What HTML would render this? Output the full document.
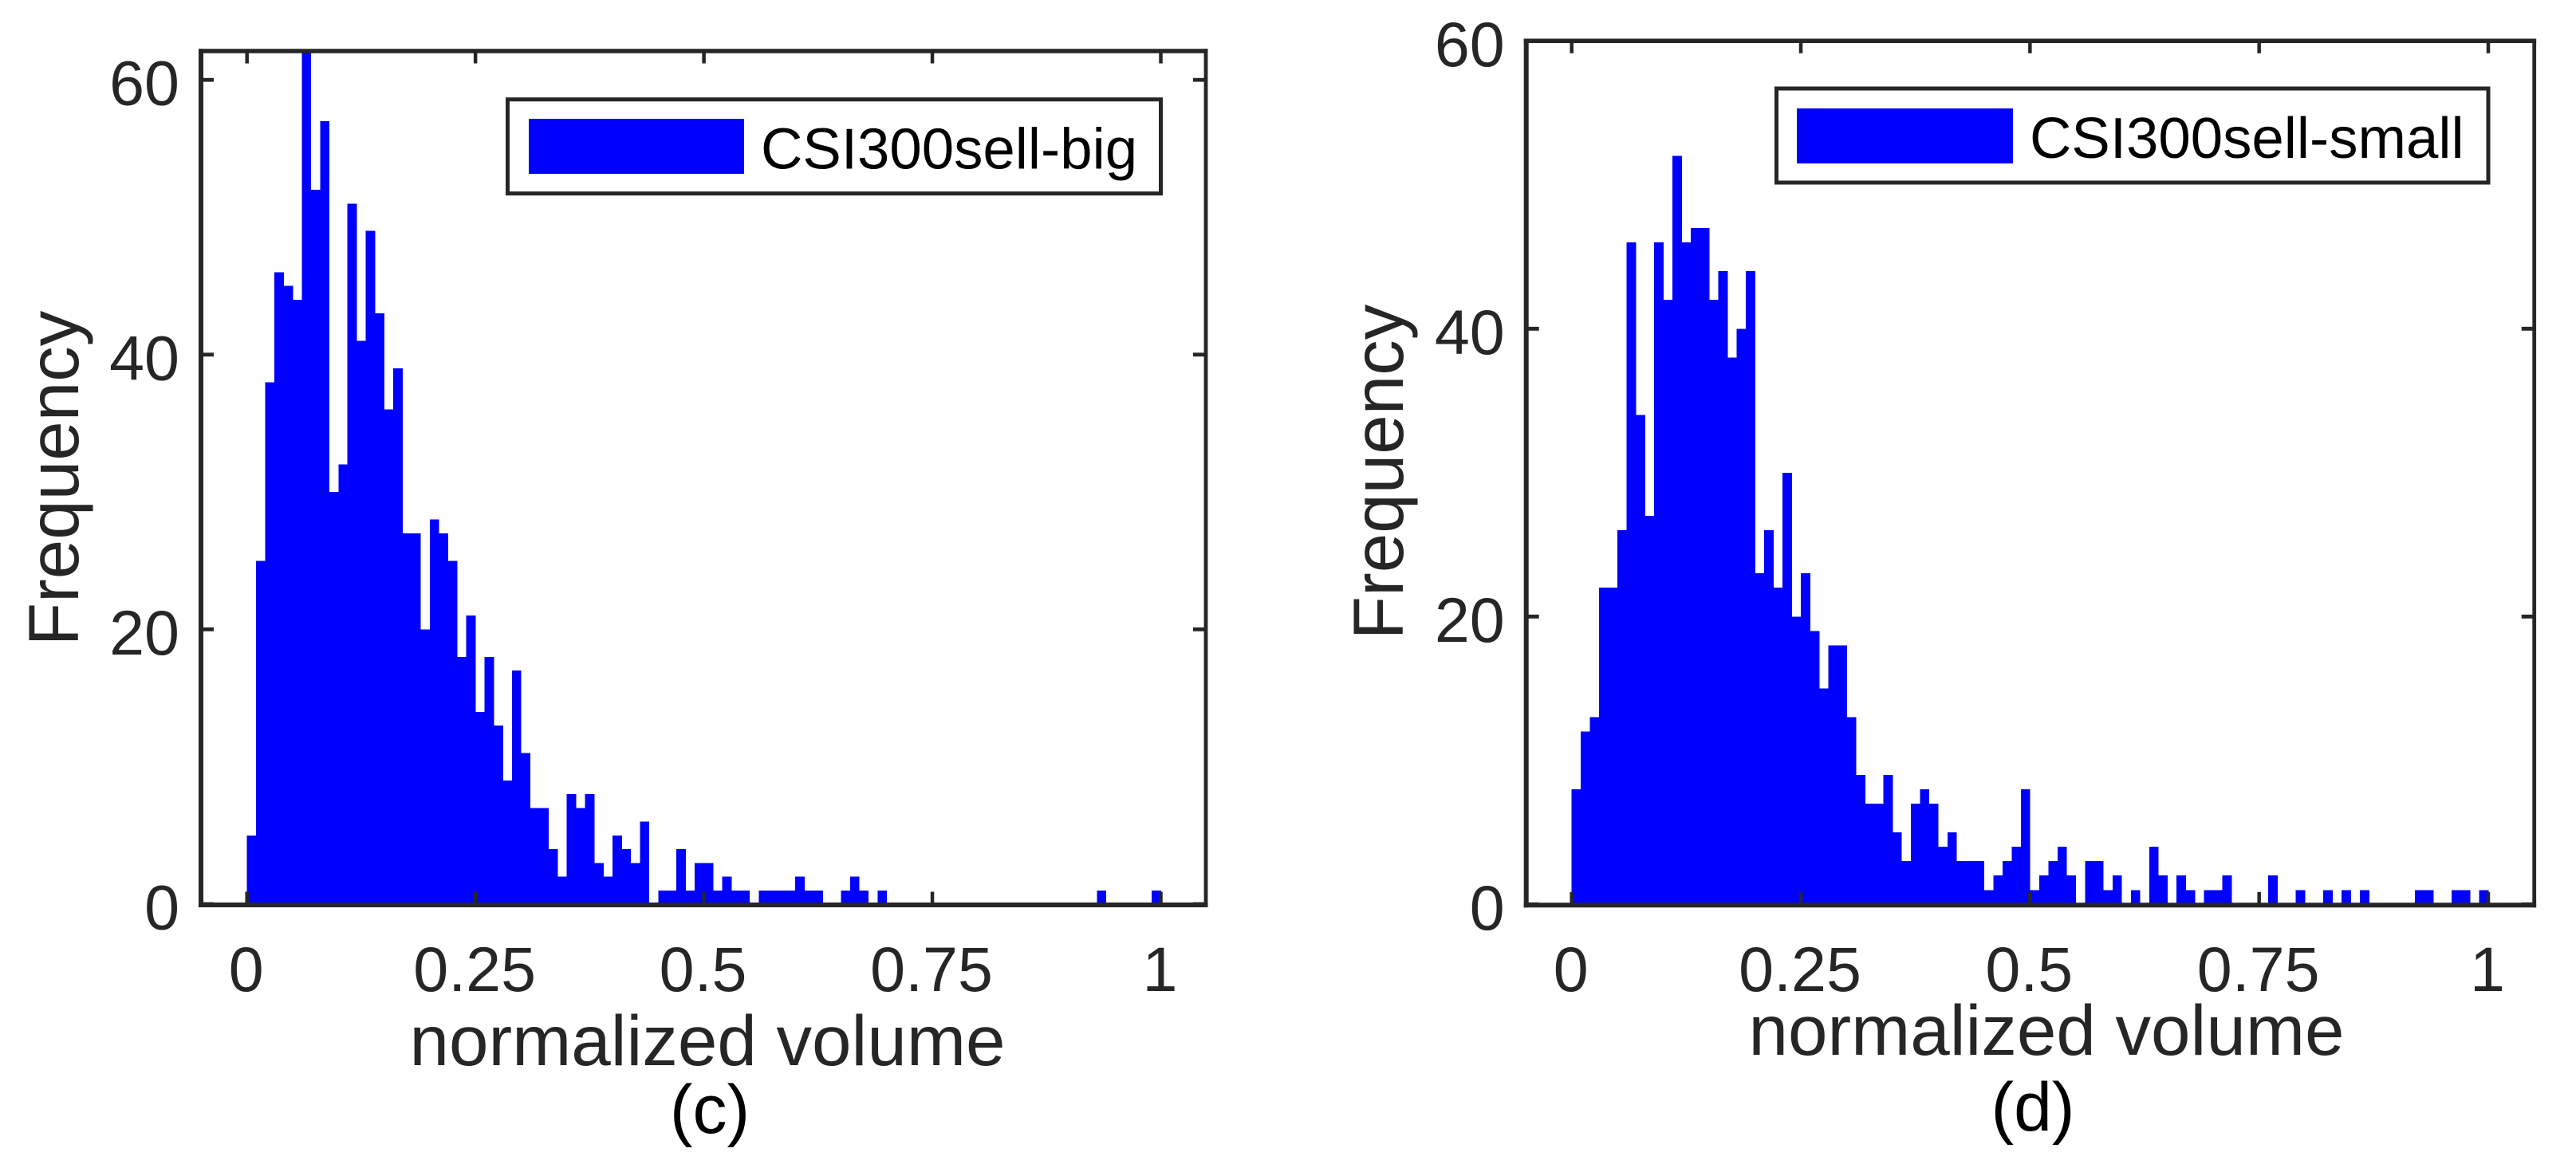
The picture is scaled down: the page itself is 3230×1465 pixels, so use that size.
<!DOCTYPE html>
<html lang="en">
<head>
<meta charset="utf-8">
<title>CSI300 sell volume histograms</title>
<style>
html,body{margin:0;padding:0;background:#fff;}
svg{display:block;}
text{font-family:"Liberation Sans",sans-serif;}
.tl{font-size:79px;fill:#262626;}
.al{font-size:89px;fill:#262626;}
.cap{font-size:86px;fill:#000;}
.lg{font-size:72.6px;fill:#000;}
</style>
</head>
<body>
<svg id="fig" xmlns="http://www.w3.org/2000/svg" width="3230" height="1465" viewBox="0 0 3230 1465">
  <rect x="0" y="0" width="3230" height="1465" fill="#fff"/>
  <g id="panel-c"></g>
  <g id="panel-d"></g>

  <text class="al" x="887" y="1336" text-anchor="middle">normalized volume</text>
  <text class="al" text-anchor="middle" transform="translate(98,600) rotate(-90)">Frequency</text>
  <text class="cap" x="890" y="1421" text-anchor="middle">(c)</text>

  <text class="al" x="2566" y="1323" text-anchor="middle">normalized volume</text>
  <text class="al" text-anchor="middle" transform="translate(1759,592) rotate(-90)">Frequency</text>
  <text class="cap" x="2549" y="1418" text-anchor="middle">(d)</text>

  <g>
    <rect x="636.5" y="124.7" width="819" height="118" fill="#fff" stroke="#262626" stroke-width="5"/>
    <rect x="663" y="149" width="270" height="69" fill="#0000ff"/>
    <text class="lg" x="954" y="211.5">CSI300sell-big</text>
  </g>
  <g>
    <rect x="2227.5" y="111" width="892.5" height="118" fill="#fff" stroke="#262626" stroke-width="5"/>
    <rect x="2253" y="136" width="271" height="69" fill="#0000ff"/>
    <text class="lg" x="2545" y="198">CSI300sell-small</text>
  </g>
</svg>
<script>
// Histogram data: 100 equal bins across [0, 1]
const binCount = 100;
const xTickValues = [0, 0.25, 0.5, 0.75, 1];
const xTickLabels = ["0", "0.25", "0.5", "0.75", "1"];
const yTickValues = [0, 20, 40, 60];
const yTickLabels = ["0", "20", "40", "60"];

const sellBigCounts = [
  5,25,38,46,45,44,62,52,57,30,
  32,51,41,49,43,36,39,27,27,20,
  28,27,25,18,21,14,18,13,9,17,
  11,7,7,4,2,8,7,8,3,2,
  5,4,3,6,0,1,1,4,1,3,
  3,1,2,1,1,0,1,1,1,1,
  2,1,1,0,0,1,2,1,0,1,
  0,0,0,0,0,0,0,0,0,0,
  0,0,0,0,0,0,0,0,0,0,
  0,0,0,1,0,0,0,0,0,1
];
const sellSmallCounts = [
  8,12,13,22,22,26,46,34,27,46,
  42,52,46,47,47,42,44,38,40,44,
  23,26,22,30,20,23,19,15,18,18,
  13,9,7,7,9,5,3,7,8,7,
  4,5,3,3,3,1,2,3,4,8,
  1,2,3,4,2,0,3,3,1,2,
  0,1,0,4,2,0,2,1,0,1,
  1,2,0,0,0,0,2,0,0,1,
  0,0,1,0,1,0,1,0,0,0,
  0,0,1,1,0,0,1,1,0,1
];

const SVG_NS = "http://www.w3.org/2000/svg";
const AXIS_COLOR = "#262626";

function makeSvg(tag, attrs, parent) {
  const el = document.createElementNS(SVG_NS, tag);
  for (const key in attrs) el.setAttribute(key, attrs[key]);
  parent.appendChild(el);
  return el;
}

function drawPanel(cfg) {
  const root = document.getElementById(cfg.id);
  const xScale = v => cfg.x0 + v * cfg.xUnit;
  const yScale = v => cfg.y0 - v * cfg.yUnit;
  const plotTop = yScale(cfg.yMax);
  const plotBottom = cfg.y0 + 1;

  // bars
  const barGroup = makeSvg("g", {"shape-rendering": "crispEdges"}, root);
  
  
  cfg.counts.forEach((count, i) => {
    if (count <= 0) return;
    const left = xScale(i / binCount);
    const right = xScale((i + 1) / binCount);
    const top = yScale(Math.min(count, cfg.yMax));
    const bar = makeSvg("rect", {x: left, y: top, width: right - left + 0.3, height: cfg.y0 - top, fill: "#0000ff"}, barGroup);
    
    
  });

  // box: the four spines have slightly different weights
  const leftSpine = makeSvg("line", {x1: cfg.left, x2: cfg.left, y1: plotTop - 2.75, y2: plotBottom + 3, stroke: AXIS_COLOR, "stroke-width": 6}, root);
  
  
  const rightSpine = makeSvg("line", {x1: cfg.right, x2: cfg.right, y1: plotTop - 2.75, y2: plotBottom + 3, stroke: AXIS_COLOR, "stroke-width": 4.8}, root);
  
  
  const topSpine = makeSvg("line", {x1: cfg.left - 3, x2: cfg.right + 2.4, y1: plotTop, y2: plotTop, stroke: AXIS_COLOR, "stroke-width": 5.5}, root);
  
  
  const bottomSpine = makeSvg("line", {x1: cfg.left - 3, x2: cfg.right + 2.4, y1: plotBottom, y2: plotBottom, stroke: AXIS_COLOR, "stroke-width": 6}, root);
  
  

  // x ticks and labels
  xTickValues.forEach((v, i) => {
    const x = xScale(v);
    const bottomTick = makeSvg("line", {x1: x, x2: x, y1: cfg.y0, y2: cfg.y0 - 15.5, stroke: AXIS_COLOR, "stroke-width": 4.5}, root);
    
    
    const topTick = makeSvg("line", {x1: x, x2: x, y1: plotTop, y2: plotTop + 15.5, stroke: AXIS_COLOR, "stroke-width": 4.5}, root);
    
    
    const label = makeSvg("text", {x: x - 1, y: 1243, "text-anchor": "middle", class: "tl"}, root);
    
    
    label.textContent = xTickLabels[i];
  });

  // y ticks and labels
  yTickValues.forEach((v, i) => {
    const y = yScale(v);
    const leftTick = makeSvg("line", {x1: cfg.left, x2: cfg.left + 16, y1: y, y2: y, stroke: AXIS_COLOR, "stroke-width": 4.8}, root);
    
    
    const rightTick = makeSvg("line", {x1: cfg.right, x2: cfg.right - 16, y1: y, y2: y, stroke: AXIS_COLOR, "stroke-width": 4.8}, root);
    
    
    const label = makeSvg("text", {x: cfg.left - 27, y: y + 31.5, "text-anchor": "end", class: "tl"}, root);
    
    
    label.textContent = yTickLabels[i];
  });
}

drawPanel({id: "panel-c", counts: sellBigCounts, left: 252, right: 1512, x0: 309.7, xUnit: 1145.8, y0: 1134, yUnit: 17.23, yMax: 62.1});
drawPanel({id: "panel-d", counts: sellSmallCounts, left: 1913.7, right: 3177.7, x0: 1970.7, xUnit: 1149.3, y0: 1134.3, yUnit: 18.05, yMax: 60});
</script>
</body>
</html>
